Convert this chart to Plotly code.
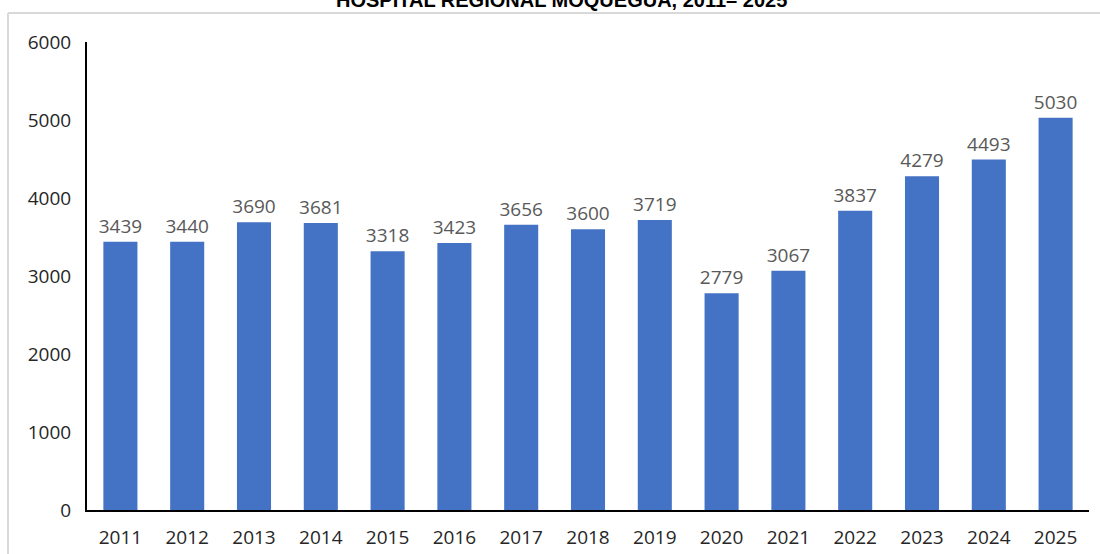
import plotly.graph_objects as go

years = ["2011", "2012", "2013", "2014", "2015", "2016", "2017", "2018",
         "2019", "2020", "2021", "2022", "2023", "2024", "2025"]
values = [3439, 3440, 3690, 3681, 3318, 3423, 3656, 3600,
          3719, 2779, 3067, 3837, 4279, 4493, 5030]
y_ticks = [0, 1000, 2000, 3000, 4000, 5000, 6000]
title_text = "HOSPITAL REGIONAL MOQUEGUA, 2011\u2013 2025"

W, H = 1100, 554
L, R, T, B = 87, 11, 42, 44
pw, ph = W - L - R, H - T - B

def px(x):
    return (x - L) / pw

def py(y):
    return (H - B - y) / ph

fig = go.Figure(go.Bar(
    x=years, y=values,
    marker=dict(color="#4472C4", line=dict(width=0)),
    text=[str(v) for v in values],
    textposition="outside",
    constraintext="none",
    textfont=dict(family="Open Sans", size=19, color="#595959"),
    cliponaxis=False,
))

fig.update_layout(
    width=W, height=H,
    margin=dict(l=L, r=R, t=T, b=B, autoexpand=False),
    paper_bgcolor="white", plot_bgcolor="white",
    bargap=0.49,
    showlegend=False,
    uniformtext=dict(mode=False),
    xaxis=dict(showline=True, linecolor="black", linewidth=2,
               showgrid=False, ticks="outside", ticklen=0,
               automargin=False,
               tickfont=dict(family="Open Sans", size=19, color="#262626"),
               ticklabelstandoff=9),
    yaxis=dict(range=[0, 6000], tickvals=y_ticks, showline=True,
               linecolor="black", linewidth=2, showgrid=False,
               zeroline=False, ticks="outside", ticklen=0,
               automargin=False,
               ticklabelstandoff=10,
               tickfont=dict(family="Open Sans", size=19, color="#262626")),
    annotations=[dict(text="<b>" + title_text + "</b>", xref="paper", yref="paper",
                      x=px(561), y=py(0), xanchor="center", yanchor="middle",
                      showarrow=False,
                      font=dict(family="Liberation Sans", size=20, color="black"))],
    shapes=[
        dict(type="line", xref="paper", yref="paper",
             x0=px(8), x1=px(1100), y0=py(13), y1=py(13),
             line=dict(color="#D9D9D9", width=2)),
        dict(type="line", xref="paper", yref="paper",
             x0=px(8), x1=px(8), y0=py(13), y1=py(554),
             line=dict(color="#D9D9D9", width=2)),
    ],
)

fig.write_html("out.html", config={"displayModeBar": False},
               post_script="document.body.style.margin='0';document.body.style.overflow='hidden';")
